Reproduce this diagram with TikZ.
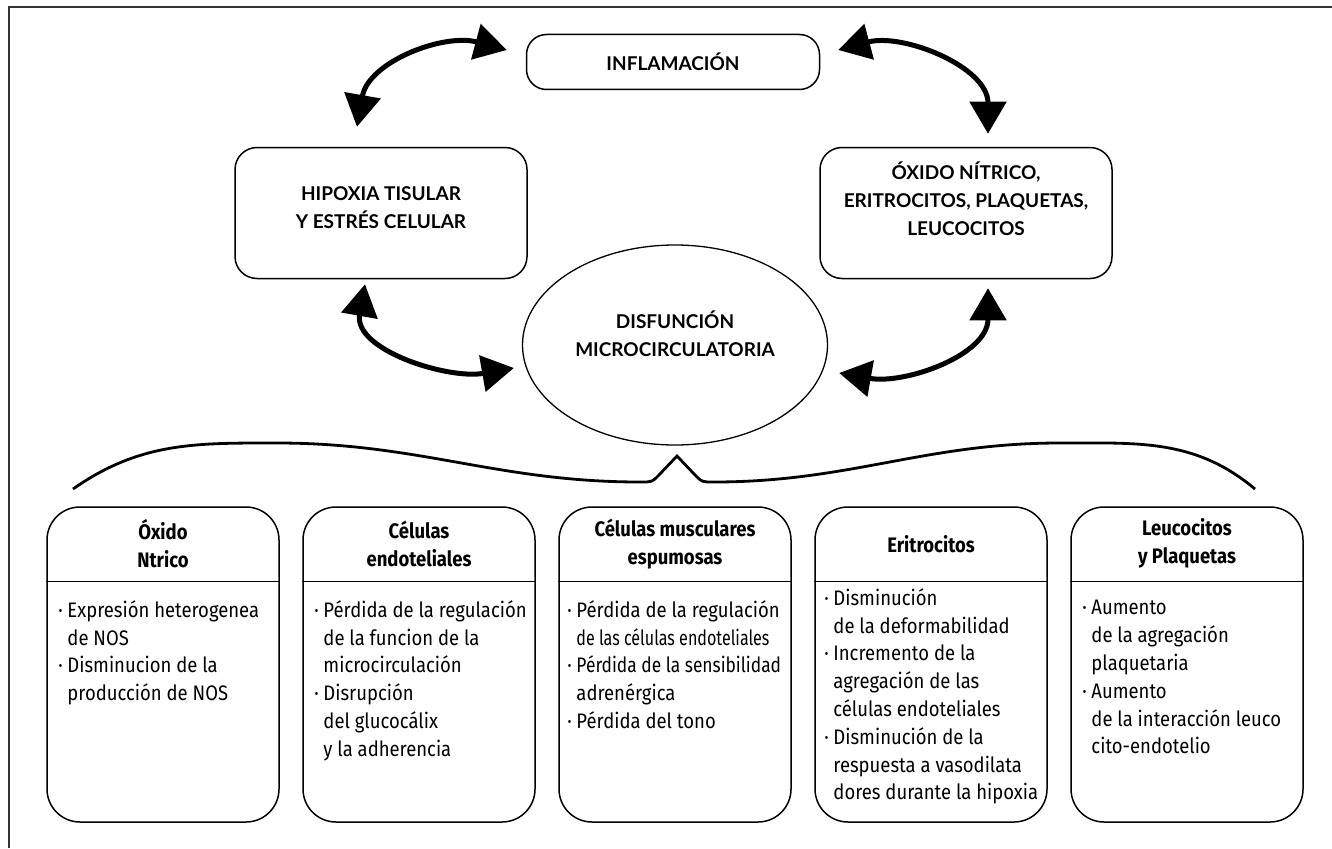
\documentclass[tikz,border=0pt]{standalone}
\usepackage{fontspec}
\setmainfont{Lato}
\newfontfamily\panelfont{Fira Sans}[FakeStretch=0.88]
\usetikzlibrary{arrows.meta,shapes.geometric}

\newcommand{\itemdot}{\makebox[9pt][l]{·}}
\newcommand{\itemgap}{\hspace*{9pt}}
\newcommand{\stacked}[2]{\raisebox{#1}[0pt][0pt]{\begin{tabular}{@{}c@{}}#2\end{tabular}}}

\begin{document}
\begin{tikzpicture}[x=1pt, y=-1pt,
  topbox/.style={draw, line width=1.5pt, rounded corners=22pt, align=center, minimum width=292pt, minimum height=131pt, font=\fontsize{19}{28}\selectfont\bfseries},
  pill/.style={topbox, rounded corners=20pt, minimum width=293pt, minimum height=55pt},
  core/.style={draw, line width=1.3pt, ellipse, align=center, minimum width=305pt, minimum height=200pt, inner sep=0pt, font=\fontsize{19}{28}\selectfont\bfseries},
  cyclearrow/.style={line width=5pt, {Triangle[length=32pt,width=36pt]}-{Triangle[length=32pt,width=36pt]}},
  panel/.style={draw, line width=1.5pt, rounded corners=33pt, minimum width=232pt, minimum height=315pt},
  panelhead/.style={align=center, font=\panelfont\fontsize{21}{28}\selectfont\bfseries},
  panelbody/.style={align=left, anchor=north west, inner sep=0pt, font=\panelfont\fontsize{21}{27.8}\selectfont},
  divider/.style={line width=1.5pt},
  brace/.style={line width=2.8pt},
  frame/.style={line width=2pt, black!80}]
\useasboundingbox (0,0) rectangle (1332,848);
\draw[frame] (9,848) -- (9,7) -- (1332,7);

% cycle
\node[pill] (infl) at (673,62) {INFLAMACIÓN};
\node[topbox] (hipox) at (381,213) {\stacked{0pt}{HIPOXIA TISULAR\\Y ESTRÉS CELULAR}};
\node[topbox] (oxnit) at (966,213) {\stacked{7pt}{ÓXIDO NÍTRICO,\\ERITROCITOS, PLAQUETAS,\\LEUCOCITOS}};
\node[core] (disf) at (675,345) {\stacked{4pt}{DISFUNCIÓN\\MICROCIRCULATORIA}};
\draw[cyclearrow] ([shift={(-24,-20)}]hipox.north) to[out=80, in=165] ([shift={(-19,-12)}]infl.west);
\draw[cyclearrow] ([shift={(18,-12)}]infl.east) to[out=15, in=90] ([shift={(22,-13)}]oxnit.north);
\draw[cyclearrow] ([shift={(-16,5)}]hipox.south) to[out=-100, in=190] ([shift={(-8,23)}]disf.west);
\draw[cyclearrow] ([shift={(22,9)}]oxnit.south) to[out=-90, in=-10] ([shift={(11,28)}]disf.east);

% brace under the ellipse
\draw[brace] (73,489) to[out=35, in=180] (277,443) to[out=0, in=180] (640,482)
  .. controls (652,482) .. (658,476) -- (677,456) -- (696,476)
  .. controls (702,482) .. (714,482) to[out=0, in=180] (1060,443) to[out=0, in=140] (1255,489);

% panels
\node[panel] (oxido) at (163,664.5) {};
\node[panel] (endo) at (419,664.5) {};
\node[panel] (musc) at (675,664.5) {};
\node[panel] (eritro) at (931,664.5) {};
\node[panel] (leuco) at (1187,664.5) {};
\draw[divider] ([yshift=-75pt]oxido.north west) -- ([yshift=-75pt]oxido.north east);
\draw[divider] ([yshift=-75pt]endo.north west) -- ([yshift=-75pt]endo.north east);
\draw[divider] ([yshift=-75pt]musc.north west) -- ([yshift=-75pt]musc.north east);
\draw[divider] ([yshift=-75pt]eritro.north west) -- ([yshift=-75pt]eritro.north east);
\draw[divider] ([yshift=-75pt]leuco.north west) -- ([yshift=-75pt]leuco.north east);

\node[panelhead] (oxidohead) at ([yshift=-37.5pt]oxido.north) {Óxido\\Ntrico};
\node[panelhead] (endohead) at ([yshift=-37.5pt]endo.north) {Células\\endoteliales};
\node[panelhead] (muschead) at ([yshift=-37.5pt]musc.north) {Células musculares\\espumosas};
\node[panelhead] (eritrohead) at ([yshift=-37.5pt]eritro.north) {Eritrocitos};
\node[panelhead] (leucohead) at ([yshift=-37.5pt]leuco.north) {Leucocitos\\y Plaquetas};

\node[panelbody] (oxidobody) at ([xshift=12pt,yshift=-94pt]oxido.north west)
  {\itemdot Expresión heterogenea\\\itemgap de NOS\\\itemdot Disminucion de la\\\itemgap producción de NOS};
\node[panelbody] (endobody) at ([xshift=12pt,yshift=-94pt]endo.north west)
  {\itemdot Pérdida de la regulación\\\itemgap de la funcion de la\\\itemgap microcirculación\\\itemdot Disrupción\\\itemgap del glucocálix\\\itemgap y la adherencia};
\node[panelbody] (muscbody) at ([xshift=9pt,yshift=-94pt]musc.north west)
  {\itemdot Pérdida de la regulación\\\itemgap \scalebox{0.87}[1]{de las células endoteliales}\\\itemdot \scalebox{0.94}[1]{Pérdida de la sensibilidad}\\\itemgap adrenérgica\\\itemdot Pérdida del tono};
\node[panelbody] (eritrobody) at ([xshift=10pt,yshift=-82pt]eritro.north west)
  {\itemdot Disminución\\\itemgap de la deformabilidad\\\itemdot Incremento de la\\\itemgap agregación de las\\\itemgap células endoteliales\\\itemdot Disminución de la\\\itemgap respuesta a vasodilata\\\itemgap dores durante la hipoxia};
\node[panelbody] (leucobody) at ([xshift=12pt,yshift=-94pt]leuco.north west)
  {\itemdot Aumento\\\itemgap de la agregación\\\itemgap plaquetaria\\\itemdot Aumento\\\itemgap de la interacción leuco\\\itemgap cito-endotelio};
\end{tikzpicture}
\end{document}
